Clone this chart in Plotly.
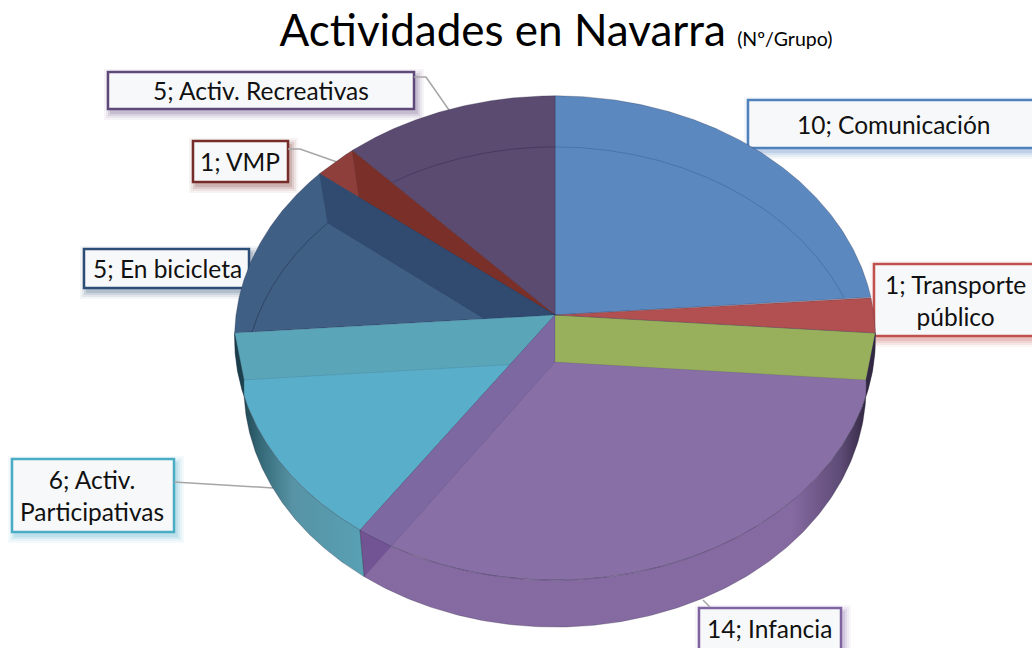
import numpy as np
import plotly.graph_objects as go

# ---------- data ----------
categories = ["Comunicación", "Transporte público", "Sin etiqueta", "Infancia",
              "Activ. Participativas", "En bicicleta", "VMP", "Activ. Recreativas"]
values = [10, 1, 0, 14, 6, 5, 1, 5]
title_main = "Actividades en Navarra"
title_sub = "(Nº/Grupo)"

# ---------- styles ----------
TOP = ["#5B88BF", "#B25051", "#98B05C", "#8870A6", "#59AEC9", "#3F5F85", "#8F3F3B", "#5C4B70"]
WALL = {6: "#7A3029", 5: "#314B70", 4: "#5BA5B9", 3: "#7D68A2", 2: "#98B05C"}
BORDER = {"Comunicación": "#4F81BD", "Transporte público": "#C0504D", "Infancia": "#8064A2",
          "Activ. Participativas": "#4BACC6", "En bicicleta": "#2C4D75", "VMP": "#772C2A",
          "Activ. Recreativas": "#5F497A"}
BOX = {  # x0, x1, y0, y1, text centre x, text lines
    "Comunicación": (748, 1040, 100, 148, 894, ["10; Comunicación"]),
    "Transporte público": (874, 1040, 264, 336, 955, ["1; Transporte", "público"]),
    "Infancia": (699, 841, 608, 660, 769, ["14; Infancia"]),
    "Activ. Participativas": (12, 174, 459, 532, 92, ["6; Activ.", "Participativas"]),
    "En bicicleta": (84, 249, 249, 288, 167, ["5; En bicicleta"]),
    "VMP": (193, 288, 141, 182, 240, ["1; VMP"]),
    "Activ. Recreativas": (108, 414, 72, 109, 261, ["5; Activ. Recreativas"]),
}
LEADERS = [([414, 426, 449], [77, 77, 110]), ([288, 300, 337], [149, 149, 162]),
           ([174, 273], [482, 488]), ([703, 710], [600, 607])]

CX = 555
TOP_LEVEL = dict(cy=315, a=319, k=240, p=0.095)
LOW_LEVEL = dict(cy=362, a=309.5, k=237.5, p=0.104)

# ---------- geometry from the values ----------
edges = np.concatenate([[0], np.cumsum(values)]) / sum(values) * 360.0


def project(theta, lev):
    t = np.radians(theta)
    u, v = np.sin(t), np.cos(t)
    d = 1 + lev["p"] * v
    return CX + lev["a"] * u / d, lev["cy"] - lev["k"] * v / d


def arc(t0, t1, lev, n=160):
    return project(np.linspace(t0, t1, n), lev)


apex_top = (CX, TOP_LEVEL["cy"])
apex_low = (CX, LOW_LEVEL["cy"])

fig = go.Figure()


def add(x, y, color, name, line="rgba(40,40,70,0.35)", **kw):
    fig.add_trace(go.Scatter(x=list(x), y=list(y), mode="lines", fill="toself", fillcolor=color,
                             line=dict(color=line, width=0.8), name=name, hoverinfo="name", **kw))


def wedge(i):
    ax, ay = arc(edges[i], edges[i + 1], TOP_LEVEL)
    add(np.r_[apex_top[0], ax, apex_top[0]], np.r_[apex_top[1], ay, apex_top[1]], TOP[i], categories[i])


def wall(i, theta):
    tx, ty = project(theta, TOP_LEVEL)
    lx, ly = project(theta, LOW_LEVEL)
    add([apex_top[0], tx, lx, apex_low[0], apex_top[0]],
        [apex_top[1], ty, ly, apex_low[1], apex_top[1]], WALL[i], categories[i],
        line="rgba(40,40,70,0.15)")


def inner_arc(t0, t1, color):
    x, y = arc(t0, t1, LOW_LEVEL)
    fig.add_trace(go.Scatter(x=x, y=y, mode="lines", line=dict(color=color, width=1), hoverinfo="skip"))


def rim(i, scale, start, stop):
    tx, ty = arc(edges[i], edges[i + 1], TOP_LEVEL)
    lx, ly = arc(edges[i], edges[i + 1], LOW_LEVEL)
    fig.add_trace(go.Scatter(x=np.r_[tx, lx[::-1], tx[0]], y=np.r_[ty, ly[::-1], ty[0]],
                             mode="lines", fill="toself", line=dict(color="rgba(40,40,60,0.45)", width=0.6),
                             fillgradient=dict(type="horizontal", colorscale=scale, start=start, stop=stop),
                             name=categories[i], hoverinfo="name"))


wedge(0)
inner_arc(0, 74, "rgba(60,95,150,0.5)")
wedge(7)
inner_arc(edges[7] + 8.2, 360, "rgba(70,55,95,0.9)")
wedge(6)
wall(6, edges[7])
wedge(5)
inner_arc(268, edges[6], "rgba(45,65,95,0.9)")
wall(5, edges[6])
wedge(4)
wall(4, edges[5])
wedge(3)
wall(3, edges[4])
wall(2, edges[3])
wedge(1)
rim(4, [[0, "rgba(25,60,72,0.98)"], [0.15, "rgba(40,95,110,0.95)"], [0.42, "rgba(68,135,155,0.9)"],
        [1, "rgba(70,150,172,0.9)"]], 240, 366)
rim(3, [[0, "rgba(112,80,145,0.85)"], [0.85, "rgba(112,80,145,0.85)"], [0.95, "rgba(85,65,110,0.95)"],
        [1, "rgba(50,40,65,1)"]], 366, 866)

# ---------- label boxes, drawn under the pie ----------
shapes = []
for cat, (x0, x1, y0, y1, _, _) in BOX.items():
    c = BORDER[cat]
    r, g, b = int(c[1:3], 16), int(c[3:5], 16), int(c[5:7], 16)
    for pad, alpha in ((7, 0.06), (5, 0.08), (3, 0.12), (1, 0.16)):
        shapes.append(dict(type="rect", layer="below", x0=x0 + 3 - pad, x1=x1 + 3 + pad,
                           y0=y0 + 4 - pad, y1=y1 + 4 + pad, line_width=0,
                           fillcolor=f"rgba({r},{g},{b},{alpha})"))
    shapes.append(dict(type="rect", layer="below", x0=x0, x1=x1, y0=y0, y1=y1,
                       line=dict(color=c, width=2.5), fillcolor="#F7F8FA"))
for lx, ly in LEADERS:
    path = "M " + " L ".join(f"{a},{b}" for a, b in zip(lx, ly))
    shapes.append(dict(type="path", layer="below", path=path, line=dict(color="#A6A6A6", width=1.5)))

annotations = []
for cat, (x0, x1, y0, y1, tx, lines) in BOX.items():
    ty = (y0 + y1) / 2 if cat != "Infancia" else 628
    annotations.append(dict(x=tx, y=ty, text="<br>".join(lines), showarrow=False,
                            xanchor="center", yanchor="middle", align="center",
                            font=dict(family="Lato, Carlito, sans-serif", size=24.5, color="#111111")))

fig.update_layout(
    width=1032, height=648, margin=dict(l=0, r=0, t=0, b=0), showlegend=False,
    paper_bgcolor="white", plot_bgcolor="white",
    xaxis=dict(range=[0, 1032], visible=False, fixedrange=True),
    yaxis=dict(range=[648, 0], visible=False, fixedrange=True),
    shapes=shapes, annotations=annotations,
    title=dict(text=f"{title_main} <span style='font-size:19.5px'>{title_sub}</span>",
               x=556 / 1032, xanchor="center", y=0.953, yanchor="middle",
               font=dict(family="Lato, Carlito, sans-serif", size=44, color="#000000")),
)
fig.write_html("out.html", config={"displayModeBar": False},
               post_script="document.body.style.margin='0';")
